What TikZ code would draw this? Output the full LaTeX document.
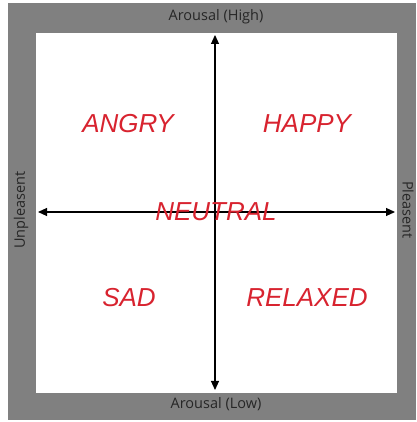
\documentclass[tikz,border=0pt]{standalone}
\usepackage{fontspec}
\setmainfont{Liberation Sans}
\newfontfamily\axisfont{Open Sans}
\usetikzlibrary{arrows.meta}

\definecolor{frame}{HTML}{808080}
\definecolor{axislbl}{HTML}{262626}
\definecolor{mood}{HTML}{D8232F}

\begin{document}
\begin{tikzpicture}[
  x=1pt, y=1pt,
  line join=round,
  axis/.style={line width=1.1pt, -{Triangle[length=9pt,width=8pt]}},
  edgelbl/.style={font=\axisfont\fontsize{14.5}{14.5}\selectfont, text=axislbl, inner sep=0pt},
  moodlbl/.style={font=\itshape\fontsize{26}{26}\selectfont, text=mood, inner sep=0pt},
]
\useasboundingbox (0,0) rectangle (416,422);

% ── the frame ─────────────────────────────────────────────────────────────
\fill[frame] (8,2) rectangle (416,419);
\fill[white] (36,29) rectangle (397,389);

% ── the two axes ──────────────────────────────────────────────────────────
\coordinate (centre) at (215,210);
\coordinate (high) at (215,387);
\coordinate (low) at (215,32);
\coordinate (left) at (38,210);
\coordinate (right) at (395,210);
\draw[axis] (centre) -- (high);
\draw[axis] (centre) -- (low);
\draw[axis] (centre) -- (left);
\draw[axis] (centre) -- (right);

% the names of the four ends, on the grey frame
\node[edgelbl] (arhigh) at (216,405) {Arousal (High)};
\node[edgelbl] (arlow) at (216,18) {Arousal (Low)};
\node[edgelbl, rotate=90] (unpl) at (21,212) {Unpleasent};
\node[edgelbl, rotate=-90] (pleas) at (408,212) {Pleasent};

% ── the five moods ────────────────────────────────────────────────────────
\node[moodlbl] (angry) at (128,298) {ANGRY};
\node[moodlbl] (happy) at (307,298) {HAPPY};
\node[moodlbl] (neutral) at (216,210) {NEUTRAL};
\node[moodlbl] (sad) at (129,124) {SAD};
\node[moodlbl] (relaxed) at (307,124) {RELAXED};

\end{tikzpicture}
\end{document}
